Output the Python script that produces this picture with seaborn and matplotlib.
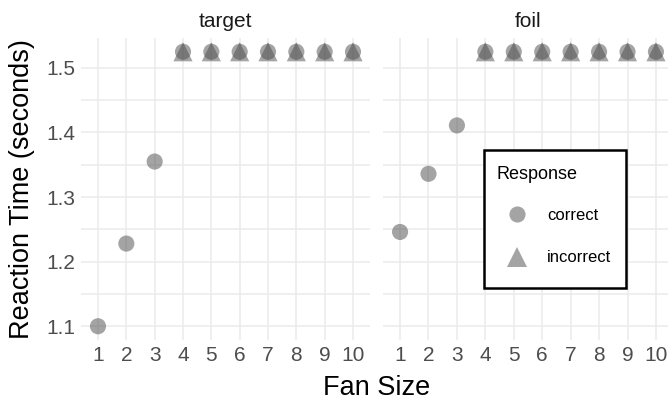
import pandas as pd
import seaborn as sns
import matplotlib.pyplot as plt
from matplotlib.lines import Line2D
from matplotlib.patches import Rectangle
from matplotlib.ticker import MultipleLocator

# values
fan_sizes = list(range(1, 11))
target_correct = [1.100, 1.228, 1.355] + [1.525] * 7
target_incorrect = [None, None, None] + [1.525] * 7
foil_correct = [1.246, 1.336, 1.411] + [1.525] * 7
foil_incorrect = [None, None, None] + [1.525] * 7
conditions = ["target", "foil"]
responses = ["correct", "incorrect"]

rows = []
for cond, corr, inc in [("target", target_correct, target_incorrect),
                        ("foil", foil_correct, foil_incorrect)]:
    for f, c, i in zip(fan_sizes, corr, inc):
        rows.append({"cond": cond, "fan": f, "rt": c, "Response": "correct"})
        if i is not None:
            rows.append({"cond": cond, "fan": f, "rt": i, "Response": "incorrect"})
df = pd.DataFrame(rows)

sns.set_theme(style="white")
plt.rcParams["font.family"] = ["Liberation Sans", "DejaVu Sans"]

W, H = 668, 405
fig = plt.figure(figsize=(W / 100, H / 100), dpi=100)

panels = {"target": (81, 370), "foil": (383, 673)}
top, bottom = 38, 340
grid_col = "#ebebeb"
pt_col = "#4b4b4b"
markers = {"correct": "o", "incorrect": "^"}
sizes = {"correct": 135, "incorrect": 190}

axes = {}
for cond in conditions:
    x0, x1 = panels[cond]
    ax = fig.add_axes([x0 / W, 1 - bottom / H, (x1 - x0) / W, (bottom - top) / H])
    axes[cond] = ax
    sub = df[df["cond"] == cond]
    sns.scatterplot(data=sub, x="fan", y="rt", style="Response", markers=markers,
                    size="Response", sizes=sizes, style_order=responses,
                    color=pt_col, alpha=0.5, linewidth=0, legend=False,
                    ax=ax, zorder=3)
    ax.set_xlim(0.4, 10.6)
    ax.set_ylim(1.0787, 1.5463)
    ax.set_xticks(fan_sizes)
    ax.yaxis.set_major_locator(MultipleLocator(0.1))
    ax.yaxis.set_minor_locator(MultipleLocator(0.05))
    ax.grid(True, which="major", color=grid_col, linewidth=1.1)
    ax.grid(True, which="minor", axis="y", color=grid_col, linewidth=1.1)
    ax.set_axisbelow(True)
    for sp in ax.spines.values():
        sp.set_visible(False)
    ax.tick_params(axis="both", which="both", length=0, labelsize=15,
                   labelcolor="#4d4d4d", pad=4)
    ax.set_xlabel("")
    ax.set_ylabel("")
    ax.set_title(cond, fontsize=15, color="#1a1a1a", pad=8)

axes["foil"].tick_params(axis="y", labelleft=False)

fig.text(22 / W, 1 - 189 / H, "Reaction Time (seconds)", rotation=90,
         ha="center", va="center", fontsize=19.5, color="black")
fig.text(377 / W, 1 - 388 / H, "Fan Size", ha="center", va="center",
         fontsize=19.5, color="black")

# legend: box, title and entries placed like the ggplot guide
fig.add_artist(Rectangle((484 / W, 1 - 288 / H), 142 / W, 138 / H,
                         transform=fig.transFigure, facecolor="white",
                         edgecolor="black", linewidth=1.8, zorder=5))
fig.text(497 / W, 1 - 175 / H, "Response", ha="left", va="center",
         fontsize=13, color="black", zorder=6)
handles = [Line2D([], [], marker=markers[r], linestyle="", color=pt_col,
                  alpha=0.5, markersize=(sizes[r] ** 0.5), markeredgewidth=0)
           for r in responses]
leg = fig.legend(handles, responses, loc="upper left",
                 bbox_to_anchor=(502 / W, 1 - 208 / H), fontsize=12,
                 frameon=False, borderpad=0, labelspacing=1.64,
                 handlelength=1.8, handletextpad=0.9, borderaxespad=0)
leg.set_zorder(6)
for t in leg.get_texts():
    t.set_color("black")

fig.savefig("out.png", dpi=100)
